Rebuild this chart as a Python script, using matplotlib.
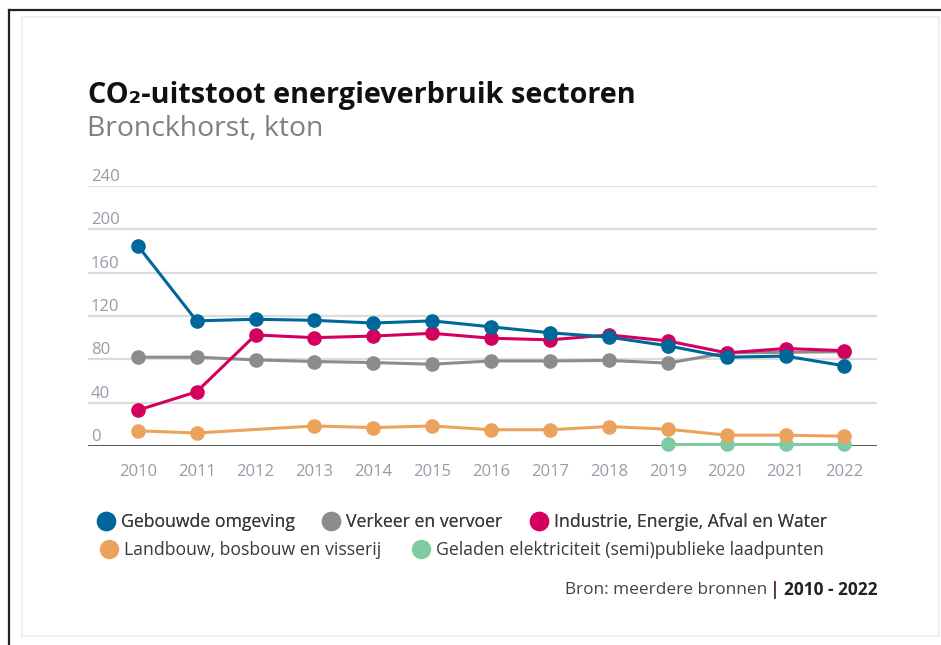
import matplotlib
matplotlib.use("Agg")
import matplotlib.pyplot as plt
from matplotlib.lines import Line2D
from matplotlib.patches import Rectangle

plt.rcParams["font.family"] = ["Open Sans", "DejaVu Sans"]

# ---------------------------------------------------------------- data
years = list(range(2010, 2023))
gebouwde = [185, 115.5, 117, 116, 113.5, 115.5, 110, 104.5, 100.5, 92.5, 82, 83, 74]
verkeer = [82, 82, 79.5, 78, 77, 75.5, 78.5, 78.5, 79, 76.5, 86, 86.5, 87]
industrie = [33, 50, 102.5, 100, 101.5, 104, 99.5, 98, 102.5, 97, 86, 90, 88]
landbouw = [14, 12, None, 18.5, 17, 18.5, 15, 15, 18, 15.5, 10, 10, 9]
laadpunten = [None] * 9 + [1.5, 1.5, 1.5, 1.5]

series_names = ["Gebouwde omgeving", "Verkeer en vervoer",
                "Industrie, Energie, Afval en Water",
                "Landbouw, bosbouw en visserij",
                "Geladen elektriciteit (semi)publieke laadpunten"]
series_vals = [gebouwde, verkeer, industrie, landbouw, laadpunten]
colors = ["#00679a", "#8c8c8c", "#d4005e", "#eba35c", "#7ecba1"]
# draw order: green and orange first, blue on top at the end
z_order = [5, 3, 4, 2, 1]

yticks = [0, 40, 80, 120, 160, 200, 240]

# ---------------------------------------------------------------- figure
W, H = 941, 645
fig = plt.figure(figsize=(W / 100, H / 100), dpi=100)


def fx(px):
    return px / W


def fy(py):
    return 1 - py / H


# frame around the picture
fig.add_artist(Line2D([fx(8.5), fx(8.5)], [fy(10), 0], color="#222222", lw=1.6))
fig.add_artist(Line2D([fx(8.5), 1], [fy(10), fy(10)], color="#222222", lw=1.6))
fig.add_artist(Rectangle((fx(22), fy(636)), fx(939) - fx(22), fy(17) - fy(636),
                         fill=False, ec="#ececec", lw=1.2))

ax = fig.add_axes([fx(88), fy(446), fx(877) - fx(88), fy(186) - fy(446)])
ax.set_xlim(2009.156, 2022.552)
ax.set_ylim(0, 240)

for v in yticks[1:]:
    ax.axhline(v, color="#dcdcdc", lw=1.6, zorder=0)
ax.axhline(0, color="#444444", lw=2.0, zorder=0.5)

for name, vals, c, z in zip(series_names, series_vals, colors, z_order):
    xs = [y for y, v in zip(years, vals) if v is not None]
    ys = [v for v in vals if v is not None]
    ax.plot(xs, ys, "-o", color=c, lw=2.2, ms=9.5, zorder=z + 1, clip_on=False)

for s in ax.spines.values():
    s.set_visible(False)
ax.set_yticks([])
ax.set_xticks(years)
ax.set_xticklabels([str(y) for y in years])
ax.tick_params(axis="x", length=0, pad=13, labelsize=12, labelcolor="#9a9aa6")

for v in yticks:
    ax.annotate(str(v), xy=(0, v), xycoords=("axes fraction", "data"),
                xytext=(2, 3.6), textcoords="offset points",
                ha="left", va="baseline", fontsize=12, color="#9a9aa6")

# ---------------------------------------------------------------- titles
fig.text(fx(88), fy(96), "CO\u2082-uitstoot energieverbruik sectoren",
         fontsize=20.8, fontweight="bold", color="#111111", va="center", ha="left")
fig.text(fx(87), fy(129), "Bronckhorst, kton",
         fontsize=20.4, color="#808080", va="center", ha="left")


# ---------------------------------------------------------------- legend
def handle(c):
    return Line2D([], [], ls="", marker="o", ms=13, color=c)


leg_kw = dict(frameon=False, fontsize=12.7, handlelength=0.8, handletextpad=0.42,
              borderaxespad=0, borderpad=0, labelcolor="#3a3a3a")
row1 = fig.legend([handle(c) for c in colors[:3]], series_names[:3],
                  loc="center left", bbox_to_anchor=(fx(99), fy(522)),
                  ncol=3, columnspacing=1.7, **leg_kw)
row2 = fig.legend([handle(c) for c in colors[3:]], series_names[3:],
                  loc="center left", bbox_to_anchor=(fx(102), fy(550)),
                  ncol=2, columnspacing=1.9, **leg_kw)
fig.add_artist(row1)

# ---------------------------------------------------------------- source
fig.canvas.draw()
r = fig.canvas.get_renderer()
t_bold = fig.text(fx(877), fy(590), "2010 - 2022", fontsize=12.4,
                  fontweight="bold", color="#222222", ha="right", va="center")
x0 = t_bold.get_window_extent(r).x0
t_bar = fig.text((x0 - 4) / W, fy(590), "|", fontsize=13, fontweight="bold",
                 color="#5a2a50", ha="right", va="center")
x1 = t_bar.get_window_extent(r).x0
fig.text((x1 - 2) / W, fy(590), "Bron: meerdere bronnen", fontsize=12.4,
         color="#444444", ha="right", va="center")

fig.savefig("out.png", dpi=100)
